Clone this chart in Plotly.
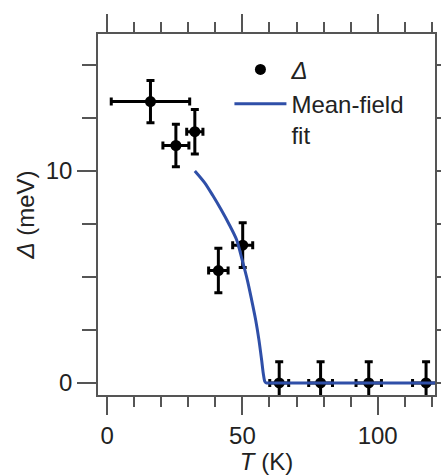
import plotly.graph_objects as go

# Data points (Delta vs T)
T = [16.0, 25.4, 32.4, 41.1, 50.1, 63.6, 78.9, 96.7, 117.9]
T_err = [14.5, 4.8, 3.0, 3.6, 3.7, 3.5, 4.4, 4.7, 5.0]
gap = [13.27, 11.2, 11.85, 5.3, 6.5, 0.0, 0.0, 0.0, 0.0]
gap_err = [1.0, 1.0, 1.05, 1.05, 1.05, 1.0, 1.0, 1.0, 1.0]

# Mean-field fit curve
fit_T = [32.4, 36.0, 39.0, 42.0, 45.2, 47.85, 49.9, 51.8, 53.4, 54.9, 56.1, 57.1, 57.7,
         58.3, 58.8, 60.0, 121.5]
fit_gap = [10.0, 9.45, 8.85, 8.2, 7.45, 6.75, 5.8, 4.86, 3.92, 2.97, 2.03, 1.08, 0.46,
           0.06, 0.0, 0.0, 0.0]

FONT = "Liberation Sans, Arial, sans-serif"
TXT = "#222222"
AX = "#555555"

fig = go.Figure()
fig.add_trace(go.Scatter(
    x=T, y=gap, mode="markers", name="<i>Δ</i>",
    marker=dict(color="black", size=11),
    error_x=dict(type="data", array=T_err, color="black", thickness=3, width=4),
    error_y=dict(type="data", array=gap_err, color="black", thickness=3, width=4),
    cliponaxis=True,
))
fig.add_trace(go.Scatter(
    x=fit_T, y=fit_gap, mode="lines", name="Mean-field<br>fit",
    line=dict(color="#2f4fa8", width=3, shape="spline", smoothing=0.8),
))

fig.update_layout(
    width=441, height=475,
    margin=dict(l=98, r=6, t=34, b=80, autoexpand=False),
    plot_bgcolor="white", paper_bgcolor="white",
    font=dict(family=FONT, size=24, color=TXT),
    showlegend=True,
    legend=dict(x=0.39, y=0.963, xanchor="left", yanchor="top",
                bgcolor="rgba(0,0,0,0)", font=dict(size=24, color=TXT),
                itemwidth=52, tracegroupgap=0, valign="top"),
)
fig.update_xaxes(
    range=[-3.4, 121.2], tickmode="linear", tick0=0, dtick=50,
    ticks="outside", ticklen=18, tickwidth=1.5, tickcolor=AX,
    minor=dict(dtick=10, tick0=0, ticks="outside", ticklen=10, tickwidth=1.5, tickcolor=AX),
    showline=True, linecolor=AX, linewidth=1.5, mirror="allticks",
    showgrid=False, zeroline=False, automargin=False,
    title=dict(text="<i>T</i> (K)", standoff=2, font=dict(size=24)),
)
fig.update_yaxes(
    range=[-0.57, 16.46], tickmode="linear", tick0=0, dtick=10,
    ticks="outside", ticklen=19, tickwidth=1.5, tickcolor=AX,
    minor=dict(dtick=2.5, tick0=0, ticks="outside", ticklen=14, tickwidth=1.5, tickcolor=AX),
    showline=True, linecolor=AX, linewidth=1.5, mirror="allticks",
    showgrid=False, zeroline=False, automargin=False,
    title=dict(text="<i>Δ</i> (meV)", standoff=4, font=dict(size=24)),
)

fig.write_html("out.html")
